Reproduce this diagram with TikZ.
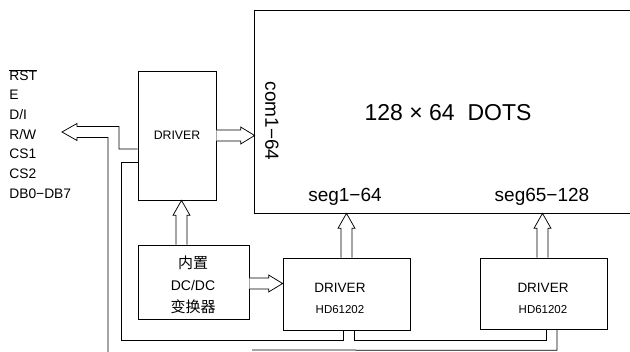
\documentclass[tikz,border=0pt]{standalone}
\usepackage{fontspec}
\setmainfont{Liberation Sans}
\newfontfamily\cjk{Noto Sans CJK SC}
\usetikzlibrary{calc}
\tikzset{
  blk/.style 2 args={draw, inner sep=0pt, minimum width=#1, minimum height=#2},
  barrow/.style={draw, line width=0.75pt, fill=white, line join=miter},
  wire/.style={draw, line width=0.75pt},
  lbl/.style={anchor=west, inner sep=0pt, font=\fontsize{13.8}{15}\selectfont},
  txt/.style={inner sep=0pt},
}
\newcommand\blkR[2]{%
  \draw[barrow] let \p1=(#1), \p2=(#2) in
    (\x1,\y1+5.5pt) -- (\x2-14pt,\y1+5.5pt) -- (\x2-14pt,\y1+8.5pt) -- (\x2,\y1)
    -- (\x2-14pt,\y1-8.5pt) -- (\x2-14pt,\y1-5.5pt) -- (\x1,\y1-5.5pt);}
\newcommand\blkU[2]{%
  \draw[barrow] let \p1=(#1), \p2=(#2) in
    (\x1-5.5pt,\y1) -- (\x1-5.5pt,\y2-15pt) -- (\x1-8.5pt,\y2-15pt) -- (\x1,\y2)
    -- (\x1+8.5pt,\y2-15pt) -- (\x1+5.5pt,\y2-15pt) -- (\x1+5.5pt,\y1);}
\begin{document}
\begin{tikzpicture}[x=1pt,y=-1pt,line width=0.75pt]
\useasboundingbox (0,0) rectangle (630,352);

% blocks
\node[blk={78pt}{129pt}] (drv) at (177,135.5) {};
\node[txt,font=\fontsize{12.3}{14}\selectfont] (drvt) at (drv.center) {DRIVER};

\node[inner sep=0pt, minimum width=385pt, minimum height=202pt] (lcd) at (447.5,112) {};
\draw (lcd.north east) -- (lcd.north west) -- (lcd.south west) -- (lcd.south east);
\node[txt,font=\fontsize{23}{26}\selectfont] (dots) at (448,113) {128 × 64\ \ DOTS};
\node[txt,rotate=-90,font=\fontsize{19}{22}\selectfont] (com) at (272,121) {com1−64};
\node[txt,font=\fontsize{19}{22}\selectfont] (seg1) at (345,197) {seg1−64};
\node[txt,font=\fontsize{19}{22}\selectfont] (seg2) at (542,197) {seg65−128};

\node[blk={111pt}{74pt}] (dc) at (193.5,282) {};
\node[txt,font=\fontsize{15}{17}\selectfont\cjk] (dct1) at (193,263) {内置};
\node[txt,font=\fontsize{14}{16}\selectfont] (dct2) at (193,285) {DC/DC};
\node[txt,font=\fontsize{15}{17}\selectfont\cjk] (dct3) at (193,307) {变换器};

\node[blk={127pt}{72pt}] (d1) at (346.5,294) {};
\node[txt,font=\fontsize{13.5}{16}\selectfont] (d1t) at (340,288) {DRIVER};
\node[txt,font=\fontsize{11.5}{14}\selectfont] (d1s) at (340,310) {HD61202};

\node[blk={127pt}{71pt}] (d2) at (543.5,293.5) {};
\node[txt,font=\fontsize{13.5}{16}\selectfont] (d2t) at (543,288) {DRIVER};
\node[txt,font=\fontsize{11.5}{14}\selectfont] (d2s) at (543,310) {HD61202};

% left labels
\node[lbl] (l1) at (9,75) {$\overline{\hbox{RST}}$};
\node[lbl] (l2) at (9,95) {E};
\node[lbl] (l3) at (9,115) {D/I};
\node[lbl] (l4) at (9,134.5) {R/W};
\node[lbl] (l5) at (9,154) {CS1};
\node[lbl] (l6) at (9,174) {CS2};
\node[lbl] (l7) at (9,193.5) {DB0−DB7};

% block arrows
\blkR{drv.east}{lcd.west}
\blkR{$(dc.east)+(0,1.5)$}{d1.west}
\blkU{$(dc.north)+(-12,0)$}{drv.south}
\blkU{d1.north}{lcd.south}
\blkU{$(d2.north)+(-1,0)$}{lcd.south}

% bus arrow and wires
\coordinate (tipL) at (62,132);
\coordinate (busEnd) at (108,352);
\coordinate (eEnd) at (252,350);
\draw[wire] ($(drv.west)+(0,13.5)$) -- (119,149) -- (119,126.5) -- (77,126.5) -- (77,123.5)
  -- (tipL) -- (77,140.5) -- (77,137.5) -- (108,137.5) -- (busEnd);
\draw[wire] ($(drv.west)+(0,26.5)$) -| (121,340) -| ($(d1.south)+(-3.5,0)$);
\draw[wire] ($(d1.south)+(7.5,0)$) -- ++(0,10) -| ($(d2.south)+(2.5,0)$);
\draw[wire] ($(d2.south)+(13.5,0)$) -- ++(0,21) -- (eEnd);
\end{tikzpicture}
\end{document}
